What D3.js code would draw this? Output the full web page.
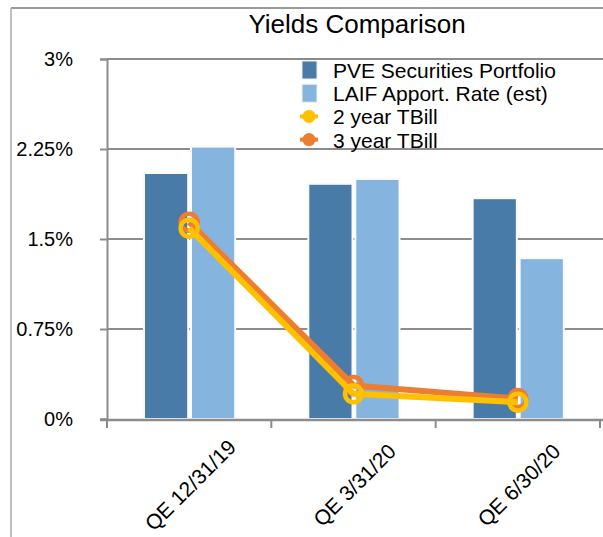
<!DOCTYPE html>
<meta charset="utf-8">
<style>
    body { margin: 0; background: #fff; }
    text { font-family: "Liberation Sans", Arial, sans-serif; fill: #000; }
</style>

<!-- Load d3.js -->
<script src="https://d3js.org/d3.v7.min.js"></script>

<div id="my_dataviz"></div>

<script>

// chart data
var categories = ["QE 12/31/19", "QE 3/31/20", "QE 6/30/20"];
var pveValues = [2.05, 1.96, 1.84];
var laifValues = [2.27, 2.00, 1.34];
var tbill2Values = [1.59, 0.21, 0.14];
var tbill3Values = [1.64, 0.28, 0.17];
var yTicks = [0, 0.75, 1.5, 2.25, 3];
var yTickLabels = ["0%", "0.75%", "1.5%", "2.25%", "3%"];
var seriesNames = ["PVE Securities Portfolio", "LAIF Apport. Rate (est)", "2 year TBill", "3 year TBill"];

var colors = {
  pve: "#497ba9",
  laif: "#85b4de",
  tbill2: "#ffc000",
  tbill3: "#ed7d31",
  grid: "#8c8c8c"
};

var width = 603, height = 537;
var plot = {left: 107, right: 600, top: 59, bottom: 419};

var svg = d3.select("#my_dataviz")
  .append("svg")
    .attr("width", width)
    .attr("height", height);

// outer frame (top and left edges visible)
svg.append("line")
  .attr("x1", 11).attr("x2", width).attr("y1", 8).attr("y2", 8)
  .attr("stroke", "#9a9a9a").attr("stroke-width", 2);
svg.append("line")
  .attr("x1", 11).attr("x2", 11).attr("y1", 8).attr("y2", height)
  .attr("stroke", "#a8a8a8").attr("stroke-width", 1.5);

// title
svg.append("text")
  .attr("x", 357)
  .attr("y", 33)
  .attr("text-anchor", "middle")
  .style("font-size", "26px")
  .text("Yields Comparison");

// scales
var x = d3.scaleBand()
  .domain(categories)
  .range([plot.left, plot.right]);

var xSub = d3.scaleBand()
  .domain(["pve", "laif"])
  .range([x.bandwidth() * 0.225, x.bandwidth() * 0.78])
  .paddingInner(0.06);

var y = d3.scaleLinear()
  .domain([0, 3])
  .range([plot.bottom, plot.top]);

// gridlines
svg.append("g")
  .selectAll("line")
  .data(yTicks.filter(function(d) { return d > 0; }))
  .join("line")
    .attr("x1", plot.left)
    .attr("x2", width)
    .attr("y1", function(d) { return y(d); })
    .attr("y2", function(d) { return y(d); })
    .attr("stroke", colors.grid)
    .attr("stroke-width", 2);

// Y axis
var yAxis = svg.append("g")
  .attr("transform", "translate(" + plot.left + ",0)")
  .call(d3.axisLeft(y)
    .tickValues(yTicks)
    .tickSize(7)
    .tickPadding(27)
    .tickFormat(function(d, i) { return yTickLabels[i]; }));
yAxis.select(".domain").attr("stroke", colors.grid).attr("stroke-width", 2);
yAxis.selectAll(".tick line").attr("stroke", colors.grid).attr("stroke-width", 2);
yAxis.selectAll("text")
  .style("font-size", "20px")
  .style("font-family", "'Liberation Sans', Arial, sans-serif")
  .attr("fill", "#000");

// bars
var barData = [];
categories.forEach(function(c, i) {
  barData.push({cat: c, key: "pve", value: pveValues[i]});
  barData.push({cat: c, key: "laif", value: laifValues[i]});
});

svg.append("g")
  .selectAll("rect")
  .data(barData)
  .join("rect")
    .attr("x", function(d) { return x(d.cat) + xSub(d.key); })
    .attr("y", function(d) { return y(d.value); })
    .attr("width", xSub.bandwidth())
    .attr("height", function(d) { return y(0) - y(d.value); })
    .attr("fill", function(d) { return colors[d.key]; })
    .attr("stroke", "#fafafa")
    .attr("stroke-width", 2);

// X axis
var xAxis = svg.append("g")
  .attr("transform", "translate(0," + (plot.bottom + 1) + ")")
  .call(d3.axisBottom(x).tickSize(0).tickFormat(""));
xAxis.select(".domain").remove();
xAxis.append("line")
  .attr("x1", plot.left - 7).attr("x2", width)
  .attr("stroke", colors.grid).attr("stroke-width", 2.5);
// boundary ticks between categories
xAxis.selectAll(".bound")
  .data(categories.map(function(c) { return x(c); }).concat([plot.right]))
  .join("line")
    .attr("class", "bound")
    .attr("x1", function(d) { return d; })
    .attr("x2", function(d) { return d; })
    .attr("y1", 0).attr("y2", 8)
    .attr("stroke", colors.grid).attr("stroke-width", 2);

// rotated category labels
svg.append("g")
  .selectAll("text")
  .data(categories)
  .join("text")
    .attr("transform", function(d) {
      return "translate(" + (x(d) + x.bandwidth() / 2 + 1) + ",485) rotate(-45)";
    })
    .attr("text-anchor", "middle")
    .attr("dominant-baseline", "central")
    .style("font-size", "21px")
    .text(function(d) { return d; });

// legend
var legend = svg.append("g");
var legendRows = [
  {name: seriesNames[0], kind: "box", color: colors.pve},
  {name: seriesNames[1], kind: "box", color: colors.laif},
  {name: seriesNames[2], kind: "dot", color: colors.tbill2},
  {name: seriesNames[3], kind: "dot", color: colors.tbill3}
];
legendRows.forEach(function(r, i) {
  var cy = 70 + i * 23.2;
  if (r.kind == "box") {
    legend.append("rect")
      .attr("x", 302).attr("y", cy - 9)
      .attr("width", 15).attr("height", 18)
      .attr("fill", r.color)
      .attr("stroke", "#f0f0f0").attr("stroke-width", 1);
  } else {
    legend.append("line")
      .attr("x1", 300).attr("x2", 318).attr("y1", cy).attr("y2", cy)
      .attr("stroke", r.color).attr("stroke-width", 4);
    legend.append("circle")
      .attr("cx", 309).attr("cy", cy).attr("r", 6.5)
      .attr("fill", r.color);
  }
  legend.append("text")
    .attr("x", 333)
    .attr("y", cy + 8)
    .style("font-size", "21px")
    .text(r.name);
});

// lines: 3 year under 2 year
var lineSeries = [
  {key: "tbill3", values: tbill3Values},
  {key: "tbill2", values: tbill2Values}
];
var line = d3.line()
  .x(function(d, i) { return x(categories[i]) + x.bandwidth() / 2; })
  .y(function(d) { return y(d); });

lineSeries.forEach(function(s) {
  var g = svg.append("g");
  g.append("path")
    .attr("d", line(s.values))
    .attr("fill", "none")
    .attr("stroke", colors[s.key])
    .attr("stroke-width", 6)
    .attr("stroke-linejoin", "round");
  g.selectAll("circle")
    .data(s.values)
    .join("circle")
      .attr("cx", function(d, i) { return x(categories[i]) + x.bandwidth() / 2; })
      .attr("cy", function(d) { return y(d); })
      .attr("r", 8.5)
      .attr("fill", "none")
      .attr("stroke", colors[s.key])
      .attr("stroke-width", 4.5);
});

</script>
